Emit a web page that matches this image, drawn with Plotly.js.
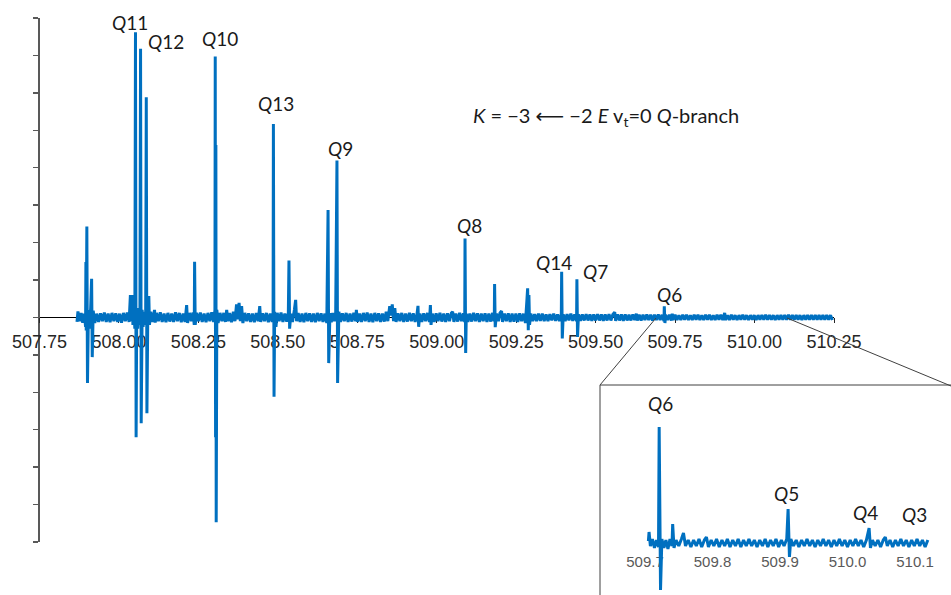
<!DOCTYPE html>
<html>
<head>
<meta charset="utf-8">
<script src="https://cdn.plot.ly/plotly-3.0.1.min.js"></script>
<style>html,body{margin:0;padding:0;background:#fff;}#chart{width:951px;height:595px;}</style>
</head>
<body>
<div id="chart"></div>
<script>
// ---- Main spectrum (frequency / intensity, arbitrary units; 1 unit = one y tick) ----
const freqA = [507.868,507.871,507.876,507.881,507.886,507.891,507.895,507.896,507.897,507.899,507.901,507.904,507.907,507.911,507.914,507.916,507.919,507.924,507.930,507.936,507.942,507.948,507.954,507.960,507.966,507.972,507.978,507.984,507.990,507.996,508.002,508.008,508.014,508.020,508.026,508.032,508.036,508.038,508.041,508.044,508.047,508.050,508.052,508.054,508.056,508.059,508.062,508.066,508.068,508.070,508.073,508.076,508.080,508.084,508.086,508.088,508.091,508.094,508.096,508.100,508.106,508.112,508.114,508.118,508.124,508.130,508.136,508.142,508.148,508.154,508.160,508.166,508.172,508.178,508.184,508.190,508.196];
const intA  = [-0.12,0.16,-0.1,0.12,-0.14,0.1,-0.25,1.48,-0.35,2.43,-1.75,0.2,-0.3,0.25,1.03,-1.06,0.18,-0.15,0.1,-0.12,0.11,-0.1,0.13,-0.12,0.1,-0.13,0.12,-0.1,0.11,-0.12,0.1,-0.14,0.12,-0.1,0.13,-0.12,0.6,-0.1,0.6,-0.2,0.3,-0.3,7.62,-3.2,0.2,-0.3,0.25,-0.2,7.18,-2.83,0.2,-0.25,0.15,-0.2,5.88,-2.56,0.3,0.57,-0.2,0.15,-0.12,0.2,-0.14,0.12,-0.1,0.14,-0.12,0.1,-0.13,0.12,-0.11,0.1,-0.12,0.14,-0.1,0.12,-0.13];

const freqB = [508.202,508.208,508.213,508.216,508.222,508.228,508.233,508.237,508.238,508.240,508.244,508.250,508.256,508.262,508.268,508.274,508.280,508.286,508.292,508.298,508.302,508.303,508.304,508.305,508.306,508.308,508.312,508.318,508.324,508.330,508.335,508.339,508.343,508.348,508.354,508.360,508.365,508.370,508.374,508.378,508.382,508.386,508.390,508.396,508.402,508.408,508.414,508.420,508.426,508.432,508.438,508.443,508.446,508.452,508.458,508.464,508.470,508.476,508.482,508.485,508.486,508.488,508.490,508.494,508.498,508.504,508.510,508.516,508.522,508.528,508.533,508.535,508.537,508.541,508.546,508.552,508.556,508.559,508.564,508.570,508.576,508.582,508.588,508.594,508.600,508.606,508.612,508.618,508.624,508.630,508.636,508.642,508.648,508.654,508.658,508.660,508.664,508.668,508.673,508.678,508.682,508.686,508.688,508.692,508.697,508.703,508.709,508.715,508.721,508.727,508.733,508.739,508.745];
const intB  = [0.1,-0.12,0.33,-0.15,0.12,-0.1,0.13,-0.2,1.49,-0.2,0.12,-0.1,0.13,-0.12,0.1,-0.13,0.12,-0.1,0.14,-0.12,0.2,6.97,-3.2,4.61,-5.47,0.2,-0.15,0.12,-0.1,0.12,-0.12,0.2,-0.1,0.12,-0.13,0.15,-0.1,0.35,-0.05,0.39,-0.1,0.3,-0.15,0.12,-0.1,0.11,-0.12,0.1,-0.13,0.12,-0.1,0.3,-0.12,0.11,-0.1,0.12,-0.13,0.1,-0.12,0.1,5.17,-2.12,0.15,-0.25,0.12,-0.1,0.13,-0.12,0.1,-0.11,0.12,1.52,-0.3,0.1,-0.12,0.2,0.47,-0.1,0.12,-0.12,0.1,-0.13,0.12,-0.1,0.11,-0.12,0.1,-0.13,0.12,-0.1,0.11,-0.12,0.1,-0.15,2.87,-1.22,0.12,-0.13,0.12,-0.1,0.12,4.19,-1.75,0.15,-0.12,0.11,-0.1,0.12,-0.12,0.1,-0.11,0.12,-0.1];

const freqC = [508.747,508.751,508.757,508.763,508.769,508.775,508.781,508.787,508.793,508.799,508.805,508.811,508.817,508.823,508.829,508.835,508.841,508.846,508.852,508.856,508.860,508.864,508.868,508.872,508.878,508.884,508.890,508.896,508.902,508.908,508.914,508.920,508.926,508.932,508.938,508.941,508.943,508.947,508.953,508.959,508.965,508.971,508.977,508.980,508.982,508.986,508.992,508.998,509.004,509.010,509.016,509.022,509.028,509.034,509.040,509.046,509.050,509.054,509.060,509.066,509.072,509.078,509.084,509.088,509.089,509.091,509.093,509.098,509.104,509.110,509.116,509.122,509.128,509.134,509.140,509.146,509.152,509.158,509.164,509.170,509.176,509.181,509.182,509.184,509.188,509.194,509.199,509.204,509.207,509.213,509.219,509.225,509.231,509.237,509.243,509.249,509.255,509.261,509.267,509.273,509.279,509.284,509.286,509.288,509.290,509.292,509.296];
const intC  = [0.2,-0.12,0.1,-0.12,0.12,-0.1,0.13,-0.12,0.1,-0.13,0.12,-0.1,0.11,-0.12,0.1,-0.11,0.15,-0.1,0.3,0.05,0.35,-0.1,0.25,-0.12,0.11,-0.1,0.12,-0.12,0.1,-0.11,0.12,-0.1,0.11,-0.12,0.1,0.31,-0.25,0.1,-0.12,0.11,-0.1,0.12,-0.12,0.33,-0.2,0.1,-0.12,0.11,-0.1,0.12,-0.11,0.1,-0.12,0.11,-0.1,0.12,0.15,-0.12,0.1,-0.11,0.12,-0.1,0.11,-0.12,2.11,-0.95,0.1,-0.12,0.1,-0.11,0.12,-0.1,0.11,-0.12,0.1,-0.1,0.11,-0.12,0.1,-0.11,0.12,-0.1,0.89,-0.26,0.1,-0.1,0.12,0.17,-0.12,0.1,-0.1,0.11,-0.12,0.1,-0.11,0.1,-0.12,0.11,-0.1,0.1,-0.15,0.5,0.78,-0.34,0.6,-0.2,0.1];

const freqD = [509.302,509.308,509.314,509.320,509.326,509.332,509.338,509.344,509.350,509.356,509.362,509.368,509.374,509.380,509.386,509.392,509.393,509.395,509.398,509.404,509.410,509.416,509.422,509.428,509.434,509.440,509.441,509.443,509.446,509.452,509.458,509.464,509.470,509.476,509.482,509.488,509.494,509.500,509.506,509.512,509.518,509.524,509.530,509.536,509.542,509.548,509.554,509.560,509.563,509.569,509.575,509.581,509.587,509.593,509.599,509.605,509.611,509.617,509.623,509.628,509.631,509.637,509.643,509.649,509.655,509.661,509.667,509.673,509.679,509.685,509.691,509.697,509.703,509.709,509.715,509.716,509.718,509.720,509.726,509.732,509.738,509.741,509.744,509.750];
const intD  = [-0.1,0.09,-0.1,0.1,-0.09,0.1,-0.1,0.08,-0.1,0.09,-0.08,0.1,-0.09,0.08,-0.1,0.1,1.22,-0.56,0.08,-0.1,0.09,-0.08,0.1,-0.09,0.08,-0.1,1.02,-0.52,0.08,-0.09,0.08,-0.08,0.09,-0.08,0.08,-0.09,0.08,-0.08,0.09,-0.08,0.08,-0.09,0.08,-0.08,0.09,-0.08,0.08,0.14,-0.09,0.08,-0.08,0.08,-0.09,0.08,-0.08,0.07,-0.08,0.08,-0.07,0.1,-0.08,0.07,-0.08,0.07,-0.07,0.08,-0.07,0.07,-0.08,0.07,-0.07,0.08,-0.07,0.07,-0.1,0.3,-0.15,0.07,-0.07,0.07,-0.08,0.1,-0.07,0.07];

const freqE = [509.756,509.762,509.768,509.774,509.780,509.786,509.792,509.798,509.804,509.810,509.816,509.822,509.828,509.834,509.840,509.846,509.852,509.858,509.864,509.870,509.876,509.882,509.888,509.894,509.900,509.906,509.909,509.915,509.921,509.927,509.933,509.939,509.945,509.951,509.957,509.963,509.969,509.975,509.981,509.987,509.993,509.999,510.005,510.011,510.017,510.023,510.029,510.035,510.041,510.047,510.053,510.059,510.065,510.071,510.077,510.083,510.089,510.095,510.101,510.107,510.113,510.119,510.125,510.131,510.137,510.143,510.149,510.155,510.161,510.167,510.173,510.179,510.185,510.191,510.197,510.203,510.209,510.215,510.221,510.227,510.233,510.239,510.245];
const intE  = [-0.07,0.06,-0.07,0.07,-0.06,0.07,-0.07,0.06,-0.07,0.07,-0.06,0.07,-0.07,0.06,-0.07,0.07,-0.06,0.07,-0.07,0.06,-0.07,0.07,-0.06,0.07,-0.07,0.12,-0.07,0.06,-0.07,0.07,-0.06,0.06,-0.07,0.06,-0.06,0.07,-0.06,0.06,-0.07,0.06,-0.06,0.06,-0.07,0.06,-0.06,0.06,-0.06,0.07,-0.06,0.06,-0.06,0.06,-0.07,0.06,-0.06,0.06,-0.06,0.06,-0.06,0.07,-0.06,0.06,-0.06,0.06,-0.06,0.06,-0.07,0.06,-0.06,0.06,-0.06,0.06,-0.06,0.06,-0.06,0.06,-0.06,0.06,-0.06,0.06,-0.06,0.06,-0.07];

// ---- Inset (509.7 – 510.12 region, own scale) ----
const insetFreq = [509.705,509.706,509.708,509.711,509.714,509.717,509.720,509.721,509.723,509.725,509.728,509.731,509.734,509.737,509.740,509.741,509.743,509.746,509.750,509.754,509.757,509.760,509.764,509.768,509.772,509.776,509.780,509.784,509.788,509.791,509.794,509.798,509.802,509.806,509.810,509.814,509.818,509.822,509.826,509.830,509.834,509.838,509.842,509.846,509.850,509.854,509.858,509.862,509.866,509.870,509.874,509.878,509.882,509.886,509.890,509.894,509.898,509.902,509.906,509.910,509.912,509.914,509.916,509.920,509.924,509.928,509.932,509.936,509.940,509.944,509.948,509.952,509.956,509.960,509.964,509.968,509.972,509.976,509.980,509.984,509.988,509.992,509.996,510.000,510.004,510.008,510.012,510.016,510.020,510.024,510.028,510.032,510.034,510.037,510.041,510.045,510.049,510.053,510.056,510.059,510.063,510.067,510.071,510.075,510.079,510.083,510.087,510.091,510.095,510.099,510.103,510.107,510.111,510.115,510.119];
const insetInt  = [2,11,-3,4,-5,3,-4,116,-47,4,-5,3,-6,4,-3,19,-5,3,-3,4,10,-3,3,-4,3,-3,4,-4,3,6,-4,3,-3,4,-4,3,-3,4,-4,3,-3,4,-4,3,-3,4,-3,3,-4,3,-3,4,-4,3,-3,4,-4,3,-3,4,34,-14,4,-3,3,-4,3,-3,4,-3,3,-4,3,-3,4,-3,3,-4,3,-3,4,-3,3,-4,3,-3,4,-3,3,-4,3,15,-5,3,-3,3,-4,3,6,-3,3,-4,3,-3,4,-3,3,-4,3,-3,4,-3,3,-4,3];

// ---- Tick labels / annotation labels ----
const mainTicks = [507.75,508.00,508.25,508.50,508.75,509.00,509.25,509.50,509.75,510.00,510.25];
const insetTicks = [509.7,509.8,509.9,510.0,510.1];
const mainLabels = [
  {t:'Q', n:'11', x:130, y:23},
  {t:'Q', n:'12', x:166, y:42},
  {t:'Q', n:'10', x:220, y:39},
  {t:'Q', n:'13', x:276, y:103},
  {t:'Q', n:'9',  x:340, y:148},
  {t:'Q', n:'8',  x:469, y:225},
  {t:'Q', n:'14', x:554, y:262},
  {t:'Q', n:'7',  x:595, y:272},
  {t:'Q', n:'6',  x:669, y:294},
  {t:'Q', n:'6',  x:660, y:403},
  {t:'Q', n:'5',  x:786, y:493},
  {t:'Q', n:'4',  x:865, y:512},
  {t:'Q', n:'3',  x:914, y:514}
];

const W = 951, H = 595;
const px = v => v / W;
const py = v => 1 - v / H;

const mainFreq = [].concat(freqA, freqB, freqC, freqD, freqE);
const mainInt  = [].concat(intA, intB, intC, intD, intE);

const blue = '#0070C0';
const traces = [
  {x: mainFreq, y: mainInt, type:'scatter', mode:'lines', xaxis:'x', yaxis:'y',
   line:{color:blue, width:3, simplify:false}, hoverinfo:'skip'},
  {x: insetFreq, y: insetInt, type:'scatter', mode:'lines', xaxis:'x2', yaxis:'y2',
   line:{color:blue, width:3, simplify:false}, hoverinfo:'skip'}
];

const annotations = mainLabels.map(l => ({
  xref:'paper', yref:'paper', x:px(l.x), y:py(l.y), xanchor:'center', yanchor:'middle',
  text:'<i>'+l.t+'</i>'+l.n, showarrow:false,
  font:{family:'Lato, "DejaVu Sans", sans-serif', size:19, color:'#1a1a1a'}
}));
annotations.push({
  xref:'paper', yref:'paper', x:px(606), y:py(117), xanchor:'center', yanchor:'middle',
  text:'<i>K</i> = −3 ⟵ −2 <i>E</i> v<sub>t</sub>=0 <i>Q</i>-branch', showarrow:false,
  font:{family:'Lato, "DejaVu Sans", sans-serif', size:20, color:'#1a1a1a'}
});

const lineGray = '#404040';
const shapes = [
  {type:'line', xref:'paper', yref:'paper', x0:px(600), y0:py(385), x1:px(600), y1:py(596), line:{color:lineGray, width:1}},
  {type:'line', xref:'paper', yref:'paper', x0:px(600), y0:py(385), x1:px(952), y1:py(385), line:{color:lineGray, width:1}},
  {type:'line', xref:'paper', yref:'paper', x0:px(656), y0:py(318), x1:px(600), y1:py(385), line:{color:lineGray, width:1}},
  {type:'line', xref:'paper', yref:'paper', x0:px(787), y0:py(318), x1:px(951), y1:py(386), line:{color:lineGray, width:1}}
];

const layout = {
  width: W, height: H,
  margin:{l:0, r:0, t:0, b:0, pad:0},
  paper_bgcolor:'#ffffff', plot_bgcolor:'rgba(0,0,0,0)',
  showlegend:false, hovermode:false,
  xaxis:{
    domain:[px(39.5), px(834)], range:[507.75, 510.25],
    anchor:'free', position: py(317.4),
    tickmode:'array', tickvals: mainTicks, ticktext: mainTicks.map(v => v.toFixed(2)),
    ticks:'outside', ticklen:5, tickwidth:1, tickcolor:'#262626',
    showline:true, linecolor:'#000000', linewidth:1,
    showgrid:false, zeroline:false, layer:'below traces',
    tickfont:{family:'"Liberation Sans", Arial, sans-serif', size:18, color:'#262626'},
    ticklabelstandoff: 3
  },
  yaxis:{
    domain:[py(542), py(18)], range:[-6, 8],
    anchor:'x', tickmode:'linear', tick0:0, dtick:1,
    ticks:'outside', ticklen:5, tickwidth:1.3, tickcolor:'#595959',
    showline:true, linecolor:'#595959', linewidth:1.3,
    showticklabels:false, showgrid:false, zeroline:false, layer:'below traces'
  },
  xaxis2:{
    domain:[px(631.5), px(942)], range:[509.68, 510.14],
    anchor:'free', position: py(543),
    tickmode:'array', tickvals: insetTicks, ticktext: insetTicks.map(v => v.toFixed(1)),
    ticks:'outside', ticklen:5, tickcolor:'rgba(0,0,0,0)',
    showline:false, showgrid:false, zeroline:false, layer:'below traces',
    tickfont:{family:'"Liberation Sans", Arial, sans-serif', size:15, color:'#595959'}
  },
  yaxis2:{
    domain:[0, py(373)], range:[-52, 170], anchor:'x2', visible:false
  },
  annotations: annotations,
  shapes: shapes
};

Plotly.newPlot('chart', traces, layout, {staticPlot:true, displayModeBar:false});
</script>
</body>
</html>
